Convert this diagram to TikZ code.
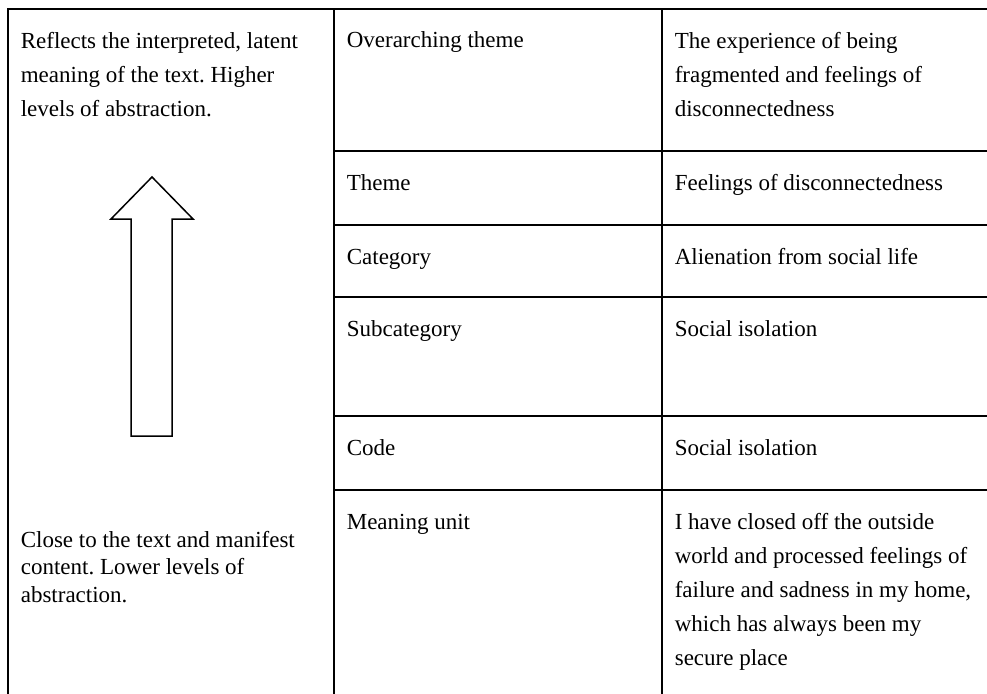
\documentclass[tikz,border=0pt]{standalone}
\usepackage{fontspec}
\setmainfont{Liberation Serif}
\usepackage{tikz}
\frenchspacing

\begin{document}
\begin{tikzpicture}[x=1pt,y=-1pt,line width=1.6pt,
  t/.style={anchor=base west,inner sep=0pt,align=left,font=\fontsize{23}{34}\selectfont},
  ts/.style={t,font=\fontsize{23}{27.5}\selectfont},
  up/.style={line width=1.5pt,line join=miter}]
\useasboundingbox (0,0) rectangle (987,693);
\clip (0,0) rectangle (987,693);
\draw (8,700) -- (8,9) -- (995,9);
\draw (334,9) -- (334,700) (662,9) -- (662,700);
\foreach \y in {151,225,297,416,490} \draw (334,\y) -- (995,\y);
\draw[up] (131,436) -- (131,219) -- (111,219) -- (152,177) -- (193,219) -- (172,219) -- (172,436) -- cycle;
% multi-line nodes sit on their last baseline
\node[t] (high) at (20,116) {Reflects the interpreted, latent\\meaning of the text. Higher\\levels of abstraction.};
\node[ts] (low) at (20,602) {Close to the text and manifest\\content. Lower levels of\\abstraction.};
\node[t] (over) at (346,48) {Overarching theme};
\node[t] (theme) at (346,190) {Theme};
\node[t] (cat) at (346,264) {Category};
\node[t] (sub) at (346,336) {Subcategory};
\node[t] (code) at (346,455) {Code};
\node[t] (unit) at (346,529) {Meaning unit};
\node[t] (overx) at (674,116) {The experience of being\\fragmented and feelings of\\disconnectedness};
\node[t] (themex) at (674,190) {Feelings of disconnectedness};
\node[t] (catx) at (674,264) {Alienation from social life};
\node[t] (subx) at (674,336) {Social isolation};
\node[t] (codex) at (674,455) {Social isolation};
\node[t] (unitx) at (674,665) {I have closed off the outside\\world and processed feelings of\\failure and sadness in my home,\\which has always been my\\secure place};
\end{tikzpicture}
\end{document}
